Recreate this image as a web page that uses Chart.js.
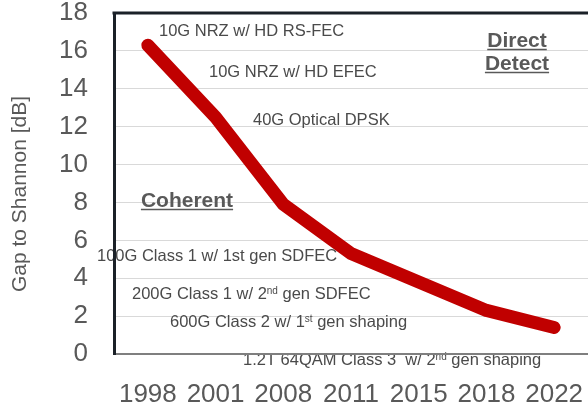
<!DOCTYPE html>
<html>
<head>
<meta charset="utf-8">
<script src="https://cdn.jsdelivr.net/npm/chart.js@4/dist/chart.umd.min.js"></script>
<style>
  html, body { margin: 0; padding: 0; background: #fff; }
  #wrap { width: 588px; height: 407px; }
</style>
</head>
<body>
<div id="wrap"><canvas id="gapChart"></canvas></div>
<script>
// data
const years = ['1998', '2001', '2008', '2011', '2015', '2018', '2022'];
const gapToShannon = [16.3, 12.5, 7.9, 5.3, 3.8, 2.3, 1.4];
const yTicks = [0, 2, 4, 6, 8, 10, 12, 14, 16, 18];
const yTitle = 'Gap to Shannon [dB]';

// text labels inside the plot (parts with sup:true are superscripts)
const notes = [
    { parts: [{ t: '10G NRZ w/ HD RS-FEC' }], x: 159, y: 36 },
    { parts: [{ t: '10G NRZ w/ HD EFEC' }], x: 209, y: 77 },
    { parts: [{ t: '40G Optical DPSK' }], x: 253, y: 125 },
    { parts: [{ t: '100G Class 1 w/ 1st gen SDFEC' }], x: 97, y: 261, under: true },
    { parts: [{ t: '200G Class 1 w/ 2' }, { t: 'nd', sup: true }, { t: ' gen SDFEC' }], x: 132, y: 299 },
    { parts: [{ t: '600G Class 2 w/ 1' }, { t: 'st', sup: true }, { t: ' gen shaping' }], x: 170, y: 327 },
    { parts: [{ t: '1.2T 64QAM Class 3  w/ 2' }, { t: 'nd', sup: true }, { t: ' gen shaping' }], x: 243, y: 365, under: true }
];
const headings = [
    { t: 'Coherent', x: 187, y: 207 },
    { t: 'Direct', x: 517, y: 47 },
    { t: 'Detect', x: 517, y: 70 }
];

const FONT = "'Liberation Sans', Arial, sans-serif";

function drawNote(ctx, n) {
    let x = n.x;
    n.parts.forEach(p => {
        ctx.font = p.sup ? `10px ${FONT}` : `16.5px ${FONT}`;
        ctx.fillText(p.t, x, p.sup ? n.y - 5 : n.y);
        x += ctx.measureText(p.t).width;
    });
}

const annotationPlugin = {
    id: 'annotations',
    beforeDraw(chart) {
        const ctx = chart.ctx;
        ctx.save();
        ctx.textBaseline = 'alphabetic';
        ctx.textAlign = 'left';
        ctx.fillStyle = '#4a4a4a';
        // these cross an axis line, which is drawn on top of them
        notes.filter(n => n.under).forEach(n => drawNote(ctx, n));

        // y axis title
        ctx.font = `21px ${FONT}`;
        ctx.fillStyle = '#595959';
        ctx.textAlign = 'center';
        ctx.translate(20, 194);
        ctx.rotate(-Math.PI / 2);
        ctx.textBaseline = 'middle';
        ctx.fillText(yTitle, 0, 0);
        ctx.restore();
    },
    beforeDatasetsDraw(chart) {
        const ctx = chart.ctx;
        ctx.save();
        ctx.textBaseline = 'alphabetic';
        ctx.textAlign = 'left';
        ctx.fillStyle = '#4a4a4a';
        notes.filter(n => !n.under).forEach(n => drawNote(ctx, n));

        // bold underlined headings
        ctx.font = `bold 21px ${FONT}`;
        ctx.textAlign = 'center';
        ctx.fillStyle = '#595959';
        ctx.strokeStyle = '#595959';
        ctx.lineWidth = 1.5;
        headings.forEach(h => {
            ctx.fillText(h.t, h.x, h.y);
            const w = ctx.measureText(h.t).width;
            ctx.beginPath();
            ctx.moveTo(h.x - w / 2, h.y + 2.5);
            ctx.lineTo(h.x + w / 2, h.y + 2.5);
            ctx.stroke();
        });
        ctx.restore();
    },
    afterDraw(chart) {
        // heavy frame line along the top
        const { ctx, chartArea } = chart;
        ctx.save();
        ctx.strokeStyle = '#1b2128';
        ctx.lineWidth = 3;
        ctx.beginPath();
        ctx.moveTo(chartArea.left - 1.5, chartArea.top);
        ctx.lineTo(chart.width, chartArea.top);
        ctx.stroke();
        ctx.restore();
    }
};

new Chart(document.getElementById('gapChart'), {
    type: 'line',
    data: {
        labels: years,
        datasets: [{
            data: gapToShannon,
            borderColor: '#c00000',
            borderWidth: 13,
            borderCapStyle: 'round',
            borderJoinStyle: 'round',
            pointRadius: 0,
            tension: 0,
            fill: false
        }]
    },
    options: {
        responsive: true,
        maintainAspectRatio: false,
        animation: false,
        layout: { padding: 0 },
        plugins: {
            legend: { display: false },
            tooltip: { enabled: false }
        },
        scales: {
            x: {
                offset: true,
                grid: { display: false, drawTicks: false },
                border: { color: '#7f7f7f', width: 2 },
                ticks: {
                    autoSkip: false,
                    maxRotation: 0,
                    padding: 25,
                    color: '#595959',
                    font: { family: FONT, size: 26 }
                },
                afterFit(scale) {
                    scale.height = 53;
                    scale.paddingLeft = 0;
                    scale.paddingRight = 0;
                }
            },
            y: {
                min: 0,
                max: 18,
                afterBuildTicks(scale) { scale.ticks = yTicks.map(v => ({ value: v })); },
                grid: { color: '#d9d9d9', lineWidth: 1, drawTicks: false },
                border: { color: '#1b2128', width: 3 },
                ticks: {
                    padding: 26,
                    color: '#595959',
                    font: { family: FONT, size: 26 }
                },
                afterFit(scale) {
                    scale.width = 114;
                    scale.paddingTop = 13;
                    scale.paddingBottom = 0;
                }
            }
        }
    },
    plugins: [annotationPlugin]
});
</script>
</body>
</html>
